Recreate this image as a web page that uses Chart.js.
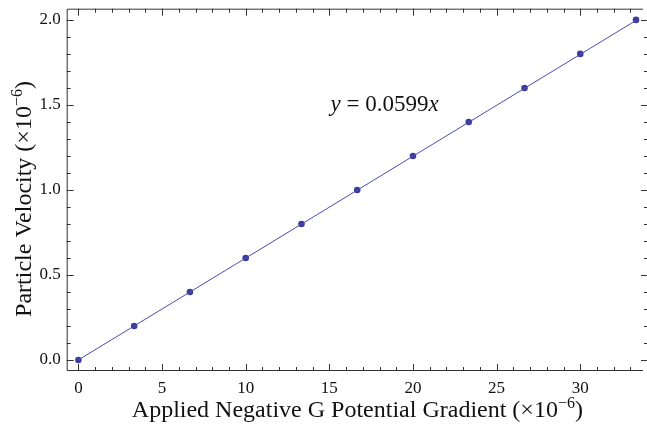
<!DOCTYPE html>
<html>
<head>
<meta charset="utf-8">
<script src="https://cdn.jsdelivr.net/npm/chart.js@4/dist/chart.umd.min.js"></script>
<style>
  html, body { margin: 0; padding: 0; background: #fff; }
  #wrap { width: 647px; height: 425px; }
</style>
</head>
<body>
<div id="wrap"><canvas id="chart" width="647" height="425"></canvas></div>
<script>
// data
const gradient = [0, 3.333, 6.667, 10, 13.333, 16.667, 20, 23.333, 26.667, 30, 33.333];
const velocity = [0, 0.2, 0.4, 0.6, 0.8, 1.0, 1.2, 1.4, 1.6, 1.8, 2.0];
// fitted line end points
const fitX = [0, 33.333];
const fitY = [0, 1.997];
const fitLabel = ['y', ' = 0.0599', 'x'];
const xTitle = 'Applied Negative G Potential Gradient';
const yTitle = 'Particle Velocity';

const serif = '"Liberation Serif", "DejaVu Serif", serif';

// writes "text (×10^-6)" starting at x, y on baseline
function titleWidth(ctx, text) {
    ctx.font = '24px ' + serif;
    let w = ctx.measureText(text + ' (×10').width + ctx.measureText(')').width;
    ctx.font = '16px ' + serif;
    return w + ctx.measureText('−6').width;
}
function drawTitle(ctx, text, x, y) {
    ctx.font = '24px ' + serif;
    const main = text + ' (×10';
    ctx.fillText(main, x, y);
    x += ctx.measureText(main).width;
    ctx.font = '16px ' + serif;
    ctx.fillText('−6', x, y - 9);
    x += ctx.measureText('−6').width;
    ctx.font = '24px ' + serif;
    ctx.fillText(')', x, y);
}

// frame with inward ticks, mathematica style
const framePlugin = {
    id: 'frame',
    afterDraw(chart) {
        const ctx = chart.ctx;
        const a = chart.chartArea;
        const xs = chart.scales.x;
        const ys = chart.scales.y;
        // right side of the frame sits just past the canvas edge
        const right = xs.getPixelForValue(34.05);
        ctx.save();
        ctx.strokeStyle = '#333';
        ctx.lineWidth = 1;
        ctx.beginPath();
        ctx.moveTo(a.right, a.top + 0.5);
        ctx.lineTo(a.left + 0.5, a.top + 0.5);
        ctx.lineTo(a.left + 0.5, a.bottom - 0.5);
        ctx.lineTo(a.right, a.bottom - 0.5);
        ctx.stroke();

        ctx.beginPath();
        for (let i = 0; i <= 34; i++) {
            const len = i % 5 === 0 ? 7 : 4;
            const px = Math.round(xs.getPixelForValue(i)) + 0.5;
            ctx.moveTo(px, a.bottom);
            ctx.lineTo(px, a.bottom - len);
            ctx.moveTo(px, a.top);
            ctx.lineTo(px, a.top + len);
        }
        for (let i = 0; i <= 20; i++) {
            const len = i % 5 === 0 ? 7 : 4;
            const py = Math.round(ys.getPixelForValue(i / 10)) + 0.5;
            ctx.moveTo(a.left, py);
            ctx.lineTo(a.left + len, py);
            ctx.moveTo(right, py);
            ctx.lineTo(right - len, py);
        }
        ctx.stroke();

        ctx.fillStyle = '#111';
        ctx.textBaseline = 'alphabetic';
        ctx.textAlign = 'left';

        // fit equation
        const bx = xs.getPixelForValue(18.3);
        const by = ys.getPixelForValue(1.465);
        const fonts = ['italic 23px ' + serif, '23px ' + serif, 'italic 23px ' + serif];
        let total = 0;
        const w = fitLabel.map((t, i) => { ctx.font = fonts[i]; const m = ctx.measureText(t).width; total += m; return m; });
        let cx = bx - total / 2;
        fitLabel.forEach((t, i) => {
            ctx.font = fonts[i];
            ctx.fillText(t, cx, by);
            cx += w[i];
        });

        // axis titles
        const xc = (a.left + right) / 2;
        drawTitle(ctx, xTitle, xc - titleWidth(ctx, xTitle) / 2, 417);
        ctx.translate(31, 199);
        ctx.rotate(-Math.PI / 2);
        drawTitle(ctx, yTitle, -titleWidth(ctx, yTitle) / 2, 0);
        ctx.restore();
    }
};

function noPad(scale) {
    scale.paddingTop = 0;
    scale.paddingBottom = 0;
    scale.paddingLeft = 0;
    scale.paddingRight = 0;
}

new Chart(document.getElementById('chart').getContext('2d'), {
    type: 'scatter',
    data: {
        datasets: [{
            data: fitX.map((x, i) => ({ x: x, y: fitY[i] })),
            showLine: true,
            borderColor: '#4b4bb0',
            borderWidth: 1,
            pointRadius: 0
        }, {
            data: gradient.map((x, i) => ({ x: x, y: velocity[i] })),
            pointRadius: 3.3,
            pointBackgroundColor: '#3c3c9e',
            pointBorderWidth: 0
        }]
    },
    options: {
        responsive: false,
        animation: false,
        layout: { padding: { left: 0, right: 0, top: 8.7, bottom: 0 } },
        plugins: { legend: { display: false }, tooltip: { enabled: false } },
        scales: {
            x: {
                type: 'linear',
                min: -0.7,
                max: 33.75,
                grid: { display: false, drawTicks: false },
                border: { display: false },
                ticks: {
                    stepSize: 5,
                    includeBounds: false,
                    padding: 7,
                    color: '#111',
                    font: { family: serif, size: 17 },
                    maxRotation: 0
                },
                afterFit(scale) { scale.height = 54; noPad(scale); }
            },
            y: {
                type: 'linear',
                min: -0.065,
                max: 2.066,
                grid: { display: false, drawTicks: false },
                border: { display: false },
                ticks: {
                    stepSize: 0.5,
                    includeBounds: false,
                    padding: 6,
                    color: '#111',
                    font: { family: serif, size: 17 },
                    callback: v => v.toFixed(1)
                },
                afterFit(scale) { scale.width = 66.7; noPad(scale); }
            }
        }
    },
    plugins: [framePlugin]
});
</script>
</body>
</html>
